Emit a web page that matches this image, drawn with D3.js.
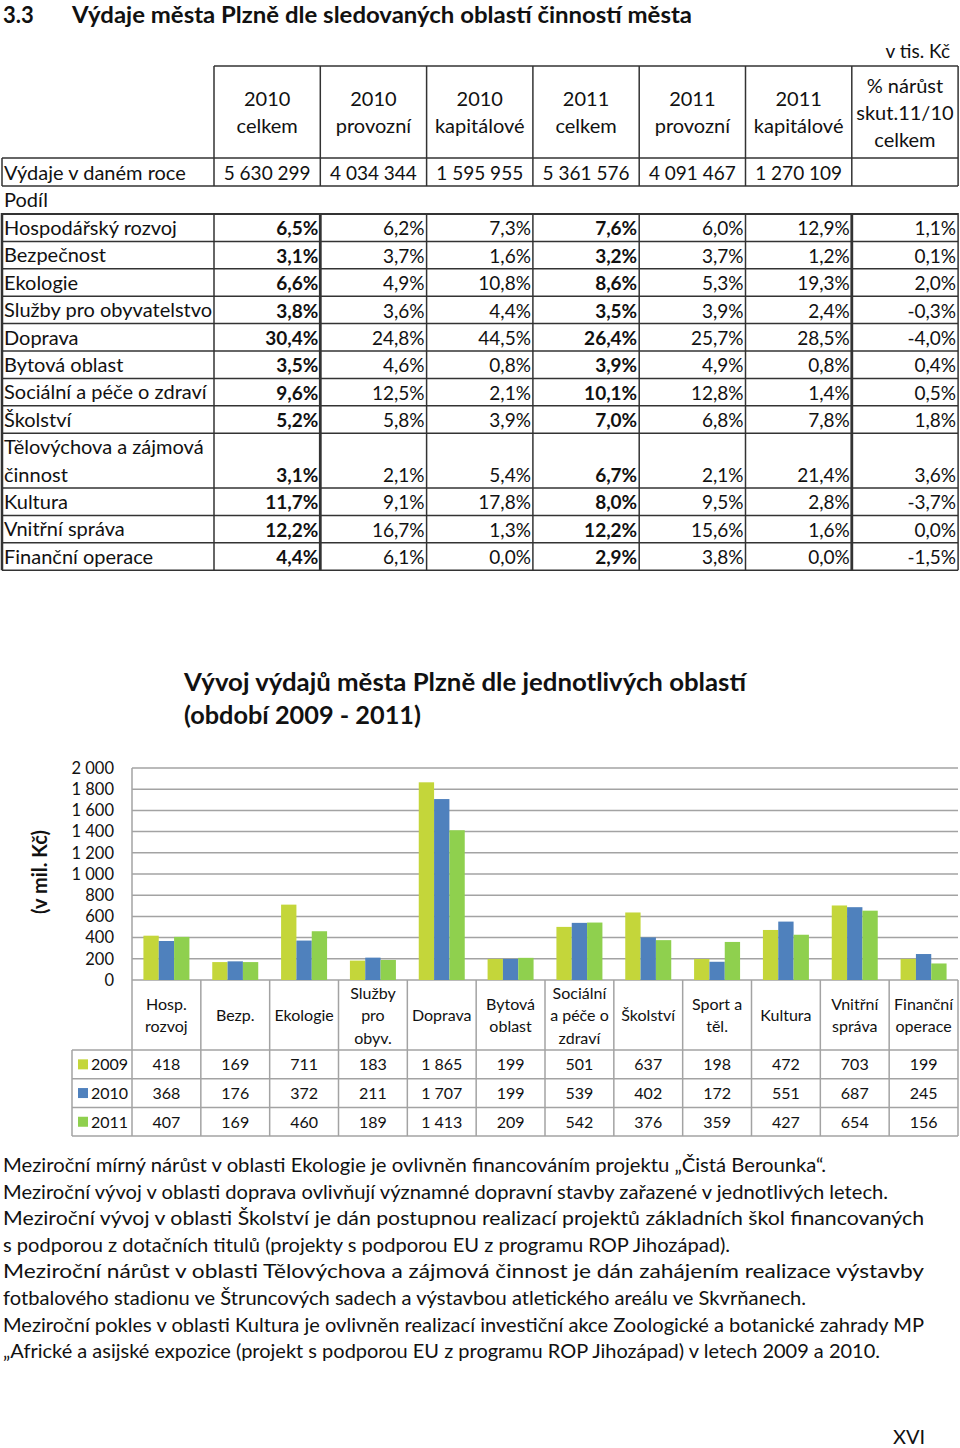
<!DOCTYPE html>
<html><head><meta charset="utf-8">
<script src="https://cdn.jsdelivr.net/npm/d3@7"></script>
<style>
html,body{margin:0;padding:0;background:#fff;}
svg{display:block;}
text{font-family:Lato,'Noto Sans',sans-serif;fill:#111;}
</style></head>
<body>
<script>
// ---------------- DATA ----------------
const headingNumber = "3.3";
const headingText = "Výdaje města Plzně dle sledovaných oblastí činností města";
const unitNote = "v tis. Kč";
const headerCols = [["2010","celkem"],["2010","provozní"],["2010","kapitálové"],["2011","celkem"],["2011","provozní"],["2011","kapitálové"],["% nárůst","skut.11/10","celkem"]];
const totalLabel = "Výdaje v daném roce";
const totalValues = ["5 630 299","4 034 344","1 595 955","5 361 576","4 091 467","1 270 109",""];
const shareLabel = "Podíl";
const areaNames = [["Hospodářský rozvoj"],["Bezpečnost"],["Ekologie"],["Služby pro obyvatelstvo"],["Doprava"],["Bytová oblast"],["Sociální a péče o zdraví"],["Školství"],["Tělovýchova a zájmová","činnost"],["Kultura"],["Vnitřní správa"],["Finanční operace"]];
const share2010celkem   = ["6,5%","3,1%","6,6%","3,8%","30,4%","3,5%","9,6%","5,2%","3,1%","11,7%","12,2%","4,4%"];
const share2010provozni = ["6,2%","3,7%","4,9%","3,6%","24,8%","4,6%","12,5%","5,8%","2,1%","9,1%","16,7%","6,1%"];
const share2010kapital  = ["7,3%","1,6%","10,8%","4,4%","44,5%","0,8%","2,1%","3,9%","5,4%","17,8%","1,3%","0,0%"];
const share2011celkem   = ["7,6%","3,2%","8,6%","3,5%","26,4%","3,9%","10,1%","7,0%","6,7%","8,0%","12,2%","2,9%"];
const share2011provozni = ["6,0%","3,7%","5,3%","3,9%","25,7%","4,9%","12,8%","6,8%","2,1%","9,5%","15,6%","3,8%"];
const share2011kapital  = ["12,9%","1,2%","19,3%","2,4%","28,5%","0,8%","1,4%","7,8%","21,4%","2,8%","1,6%","0,0%"];
const growth11to10      = ["1,1%","0,1%","2,0%","-0,3%","-4,0%","0,4%","0,5%","1,8%","3,6%","-3,7%","0,0%","-1,5%"];

const chartTitle = ["Vývoj výdajů města Plzně dle jednotlivých oblastí","(období 2009 - 2011)"];
const yAxisLabel = "(v mil. Kč)";
const categories = [["Hosp.","rozvoj"],["Bezp."],["Ekologie"],["Služby","pro","obyv."],["Doprava"],["Bytová","oblast"],["Sociální","a péče o","zdraví"],["Školství"],["Sport a","těl."],["Kultura"],["Vnitřní","správa"],["Finanční","operace"]];
const seriesNames = ["2009","2010","2011"];
const values2009 = [418,169,711,183,1865,199,501,637,198,472,703,199];
const values2010 = [368,176,372,211,1707,199,539,402,172,551,687,245];
const values2011 = [407,169,460,189,1413,209,542,376,359,427,654,156];
const yTicks = [0,200,400,600,800,1000,1200,1400,1600,1800,2000];

const paragraphLines = [
 "Meziroční mírný nárůst v oblasti Ekologie je ovlivněn financováním projektu „Čistá Berounka“.",
 "Meziroční vývoj v oblasti doprava ovlivňují významné dopravní stavby zařazené v jednotlivých letech.",
 "Meziroční vývoj v oblasti Školství je dán postupnou realizací projektů základních škol financovaných",
 "s podporou z dotačních titulů (projekty s podporou EU z programu ROP Jihozápad).",
 "Meziroční nárůst v oblasti Tělovýchova a zájmová činnost je dán zahájením realizace výstavby",
 "fotbalového stadionu ve Štruncových sadech a výstavbou atletického areálu ve Skvrňanech.",
 "Meziroční pokles v oblasti Kultura je ovlivněn realizací investiční akce Zoologické a botanické zahrady MP",
 "„Africké a asijské expozice (projekt s podporou EU z programu ROP Jihozápad) v letech 2009 a 2010."
];
const pageNumber = "XVI";

// ---------------- LAYOUT ----------------
const W = 960, H = 1448;
const paraEndX = [826, 888, 924, 730, 924, 806, 924, 880];
const colors = {"2009":"#c4d63a","2010":"#4f81bd","2011":"#8fd04e"};

const svg = d3.select("body").append("svg").attr("width",W).attr("height",H);
svg.append("rect").attr("width",W).attr("height",H).attr("fill","#fff");

// Heading
svg.append("text").attr("x",3).attr("y",23).attr("font-size",22).attr("font-weight",700).text(headingNumber);
svg.append("text").attr("x",72).attr("y",23).attr("font-size",22).attr("font-weight",700)
  .attr("textLength",620).attr("lengthAdjust","spacingAndGlyphs").text(headingText);
svg.append("text").attr("x",950).attr("y",58).attr("font-size",19).attr("text-anchor","end").text(unitNote);

// ---------- Top table ----------
const colX = d3.range(8).map(i => 214 + i*106.3);
const tLine = "#333";
const tbl = svg.append("g");
const fs = 19, fsLabel = 20;
// header
headerCols.forEach((lines,i)=>{
  const cx = (colX[i]+colX[i+1])/2;
  const startY = lines.length===2 ? 106 : 93;
  lines.forEach((l,j)=>{
    tbl.append("text").attr("x",cx).attr("y",startY+j*27).attr("font-size",fsLabel).attr("text-anchor","middle").attr("fill","#222").text(l);
  });
});
totalValues.forEach((v,i)=>{
  const cx = (colX[i]+colX[i+1])/2;
  tbl.append("text").attr("x",cx).attr("y",180).attr("font-size",fs).attr("text-anchor","middle").text(v);
});
tbl.append("text").attr("x",4).attr("y",180).attr("font-size",fsLabel).text(totalLabel);
tbl.append("text").attr("x",4).attr("y",207).attr("font-size",fsLabel).text(shareLabel);
// header borders
tbl.append("line").attr("x1",214).attr("x2",958).attr("y1",66).attr("y2",66).attr("stroke",tLine).attr("stroke-width",1.5);
tbl.append("line").attr("x1",2).attr("x2",958).attr("y1",158).attr("y2",158).attr("stroke",tLine).attr("stroke-width",1.5);
tbl.append("line").attr("x1",2).attr("x2",958).attr("y1",186).attr("y2",186).attr("stroke",tLine).attr("stroke-width",1.5);
tbl.append("line").attr("x1",2).attr("x2",2).attr("y1",158).attr("y2",186).attr("stroke",tLine).attr("stroke-width",1.5);
colX.forEach(x=>{
  tbl.append("line").attr("x1",x).attr("x2",x).attr("y1",66).attr("y2",186).attr("stroke",tLine).attr("stroke-width",1.5);
});

// share rows
const shareCols = [share2010celkem,share2010provozni,share2010kapital,share2011celkem,share2011provozni,share2011kapital,growth11to10];
const rowH = 27.4;
let yCur = 214;
const rowTops = [];
areaNames.forEach((nm)=>{ rowTops.push(yCur); yCur += rowH*nm.length; });
const tableBottom = yCur;
areaNames.forEach((nm,r)=>{
  const top = rowTops[r], bot = top + rowH*nm.length;
  nm.forEach((l,j)=>{
    tbl.append("text").attr("x",4).attr("y",top+21+j*rowH).attr("font-size",fsLabel).text(l);
  });
  shareCols.forEach((col,c)=>{
    tbl.append("text").attr("x",colX[c+1]-2).attr("y",bot-6).attr("font-size",fs)
      .attr("text-anchor","end").attr("font-weight",(c===0||c===3)?700:400).text(col[r]);
  });
  tbl.append("line").attr("x1",2).attr("x2",958).attr("y1",bot).attr("y2",bot).attr("stroke",tLine).attr("stroke-width",1.5);
});
tbl.append("line").attr("x1",2).attr("x2",958).attr("y1",214).attr("y2",214).attr("stroke",tLine).attr("stroke-width",2);
tbl.append("line").attr("x1",2).attr("x2",2).attr("y1",213).attr("y2",tableBottom).attr("stroke",tLine).attr("stroke-width",2.5);
colX.forEach((x,i)=>{
  const thick = (i===1||i===6);
  tbl.append("line").attr("x1",x).attr("x2",x).attr("y1",213).attr("y2",tableBottom)
    .attr("stroke",tLine).attr("stroke-width",thick?2.8:1.5);
});

// ---------- Chart ----------
const fmt = d3.formatLocale({decimal:",",thousands:"\u00a0",grouping:[3],currency:["",""]}).format(",d");
const plotL = 132, plotR = 958, plotT = 768, plotB = 980;
const y = d3.scaleLinear().domain([0,2000]).range([plotB,plotT]);
const x = d3.scaleBand().domain(d3.range(categories.length)).range([plotL,plotR]).paddingInner(0).paddingOuter(0);
const xs = d3.scaleBand().domain(seriesNames).range([0,x.bandwidth()]).paddingInner(0).paddingOuter(0.745);
const series = [values2009, values2010, values2011];
const grid = "#a3a3a3";

chartTitle.forEach((t,i)=>{
  svg.append("text").attr("x",184).attr("y",691+i*33).attr("font-size",24).attr("font-weight",700)
    .attr("textLength", i===0?562:237).attr("lengthAdjust","spacingAndGlyphs").text(t);
});
svg.append("text").attr("transform","translate(47,872) rotate(-90)").attr("text-anchor","middle")
  .attr("font-size",20).attr("font-weight",700).text(yAxisLabel);

const ch = svg.append("g");
ch.selectAll("line.grid").data(yTicks).join("line")
  .attr("x1",plotL).attr("x2",plotR).attr("y1",d=>y(d)).attr("y2",d=>y(d))
  .attr("stroke",grid).attr("stroke-width",1.5);
const yAxis = d3.axisLeft(y).tickValues(yTicks).tickSize(0).tickPadding(18).tickFormat(fmt);
const ya = ch.append("g").attr("transform",`translate(${plotL},0)`).call(yAxis);
ya.select(".domain").remove();
ya.selectAll("text").attr("font-size",16.5).attr("font-family","Lato,'Noto Sans',sans-serif").attr("fill","#111");

// bars
seriesNames.forEach((s,si)=>{
  ch.selectAll(null).data(series[si]).join("rect")
    .attr("x",(d,i)=>x(i)+xs(s)).attr("width",xs.bandwidth())
    .attr("y",d=>y(d)).attr("height",d=>y(0)-y(d)).attr("fill",colors[s]);
});

// category label area + data table
const tabTop = 1050, tabRowH = 28.7;
const tabBottom = tabTop + tabRowH*3;
ch.append("line").attr("x1",plotL).attr("x2",plotL).attr("y1",plotT).attr("y2",tabBottom).attr("stroke",grid).attr("stroke-width",1.5);
categories.forEach((c,i)=>{
  const xr = x(i)+x.bandwidth();
  ch.append("line").attr("x1",xr).attr("x2",xr).attr("y1",plotB).attr("y2",tabBottom).attr("stroke",grid).attr("stroke-width",1.5);
  const cx = x(i)+x.bandwidth()/2;
  const n = c.length;
  c.forEach((l,j)=>{
    ch.append("text").attr("x",cx).attr("y",1021 + (j-(n-1)/2)*22.5).attr("text-anchor","middle")
      .attr("font-size",16).text(l);
  });
});
d3.range(4).forEach(k=>{
  const yy = tabTop + k*tabRowH;
  ch.append("line").attr("x1",72).attr("x2",plotR).attr("y1",yy).attr("y2",yy).attr("stroke",grid).attr("stroke-width",1.5);
});
ch.append("line").attr("x1",72).attr("x2",72).attr("y1",tabTop).attr("y2",tabBottom).attr("stroke",grid).attr("stroke-width",1.5);
seriesNames.forEach((s,si)=>{
  const yc = tabTop + si*tabRowH + tabRowH/2;
  ch.append("rect").attr("x",78).attr("y",yc-5).attr("width",10).attr("height",10).attr("fill",colors[s]);
  ch.append("text").attr("x",91).attr("y",yc+6).attr("font-size",16).text(s);
  series[si].forEach((v,i)=>{
    ch.append("text").attr("x",x(i)+x.bandwidth()/2).attr("y",yc+6).attr("text-anchor","middle")
      .attr("font-size",16).text(fmt(v));
  });
});

// ---------- Paragraphs ----------
paragraphLines.forEach((l,i)=>{
  svg.append("text").attr("x",3).attr("y",1172+i*26.6).attr("font-size",19)
    .attr("textLength",paraEndX[i]-3).attr("lengthAdjust","spacingAndGlyphs").text(l);
});
svg.append("text").attr("x",893).attr("y",1444).attr("font-size",20).text(pageNumber);
</script>
</body></html>
